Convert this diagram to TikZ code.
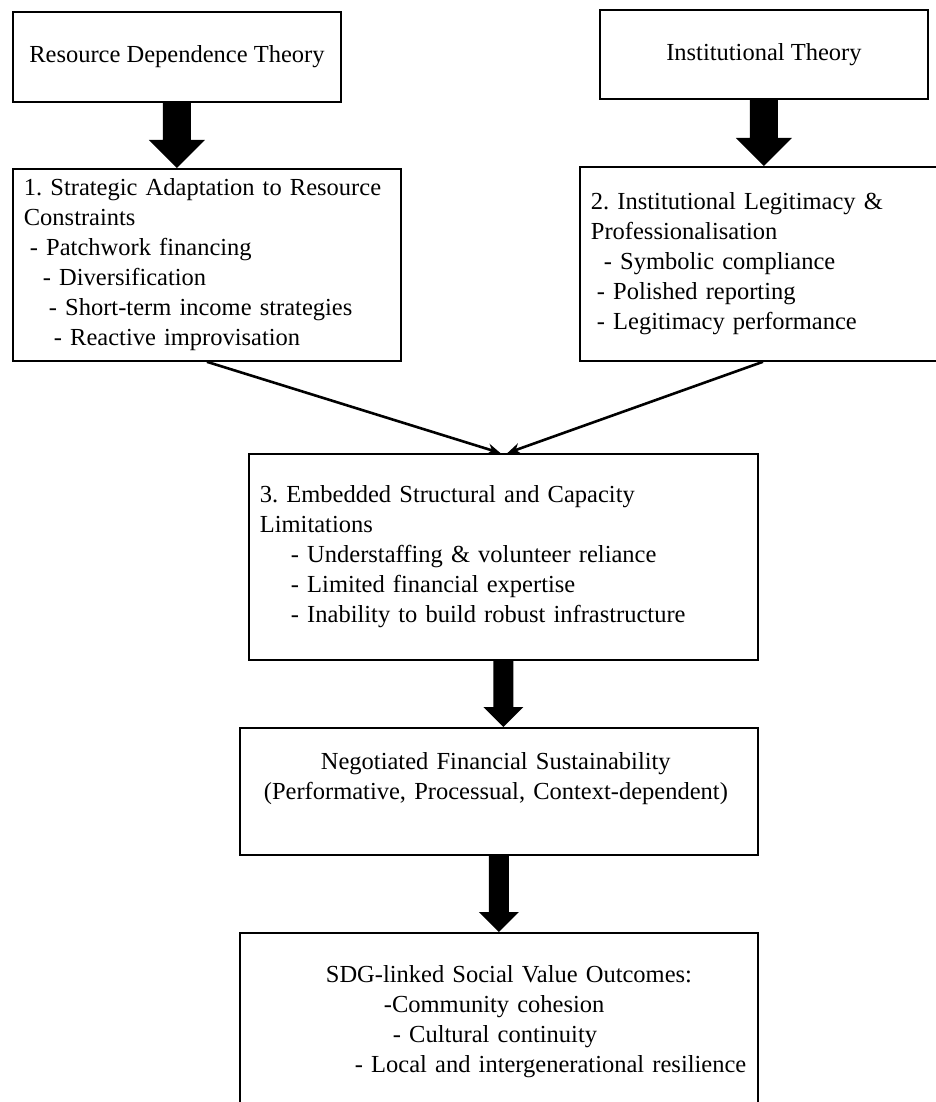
\documentclass[tikz,border=0pt]{standalone}
\usepackage{fontspec}
\setmainfont{Liberation Serif}
\frenchspacing
\usetikzlibrary{positioning, calc, arrows.meta}
\tikzstyle{arrow} = [line width=2.6pt,-{Stealth[length=13pt,width=11pt]}]
% filled block arrow: from, to, half shaft width
\newcommand{\fatarrow}[3]{%
	\fill ($(#1.south)+(-#3,0pt)$) -- ($(#1.south)+(#3,0pt)$)
	-- ($(#1.south |- #2.north)+(#3,2*#3)$) -- ($(#1.south |- #2.north)+(2*#3,2*#3)$)
	-- (#1.south |- #2.north)
	-- ($(#1.south |- #2.north)+(-2*#3,2*#3)$) -- ($(#1.south |- #2.north)+(-#3,2*#3)$) -- cycle;}

\begin{document}
\begin{tikzpicture}[x=1pt, y=-1pt, >=stealth]
	\tikzstyle{theory}=[draw=black, line width=1.8pt, rectangle, align=center, inner sep=0pt, font=\fontsize{24.5}{30}\selectfont, anchor=north west]
	\tikzstyle{box}=[draw=black, line width=1.8pt, rectangle, align=left, inner xsep=11pt, inner ysep=0pt, font=\fontsize{24.5}{30}\selectfont, anchor=north west]
	\useasboundingbox (0,0) rectangle (936,1102);
	\clip (0,0) rectangle (936,1102);
	\node[theory, minimum width=328pt, minimum height=90pt] (rdt) at (12,11) {Resource Dependence Theory};
	\node[theory, minimum width=328pt, minimum height=89pt] (it) at (599,9) {Institutional Theory};
	\node[box, minimum width=388pt, minimum height=192pt, text width=366pt] (n1) at (12,168)
		{1. Strategic Adaptation to Resource\\Constraints\\\hspace*{6pt}- Patchwork financing\\\hspace*{19pt}- Diversification\\\hspace*{25pt}- Short-term income strategies\\\hspace*{30pt}- Reactive improvisation};
	\node[box, minimum width=366pt, minimum height=194pt, text width=344pt] (n2) at (579,166)
		{2. Institutional Legitimacy \&\\Professionalisation\\\hspace*{13pt}- Symbolic compliance\\\hspace*{6pt}- Polished reporting\\\hspace*{6pt}- Legitimacy performance};
	\node[box, minimum width=509pt, minimum height=206pt, text width=487pt] (n3) at (248,453)
		{3. Embedded Structural and Capacity\\Limitations\\\hspace*{31pt}- Understaffing \& volunteer reliance\\\hspace*{31pt}- Limited financial expertise\\\hspace*{31pt}- Inability to build robust infrastructure};
	\node[box, minimum width=518pt, minimum height=127pt, text width=496pt] (nfs) at (239,727)
		{\hspace*{70pt}Negotiated Financial Sustainability\\\hspace*{13pt}(Performative, Processual, Context-dependent)\\~};
	\node[box, minimum width=518pt, minimum height=178pt, text width=496pt] (sdg) at (239,932)
		{\hspace*{75pt}SDG-linked Social Value Outcomes:\\\hspace*{133pt}-Community cohesion\\\hspace*{142pt}- Cultural continuity\\\hspace*{104pt}- Local and intergenerational resilience};
	\fatarrow{rdt}{n1}{14pt}
	\fatarrow{it}{n2}{14pt}
	\fatarrow{n3}{nfs}{10pt}
	\fatarrow{nfs}{sdg}{10pt}
	\draw[arrow] (n1.south) -- ($(n3.north)+(-3pt,0pt)$);
	\draw[arrow] (n2.south) -- ($(n3.north)+(4pt,0pt)$);
\end{tikzpicture}
\end{document}
